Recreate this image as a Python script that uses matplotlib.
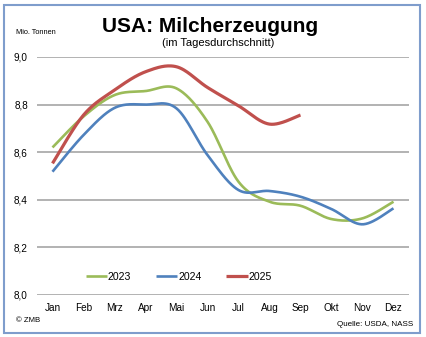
import numpy as np
import matplotlib
matplotlib.use("Agg")
import matplotlib.pyplot as plt
from matplotlib.patches import Rectangle

plt.rcParams['font.family'] = ['Liberation Sans', 'DejaVu Sans']

months = ["Jan", "Feb", "Mrz", "Apr", "Mai", "Jun", "Jul", "Aug", "Sep", "Okt", "Nov", "Dez"]
milk_2023 = [8.62, 8.75, 8.84, 8.857, 8.868, 8.728, 8.476, 8.392, 8.375, 8.319, 8.322, 8.392]
milk_2024 = [8.518, 8.672, 8.786, 8.80, 8.784, 8.588, 8.441, 8.437, 8.413, 8.361, 8.297, 8.364]
milk_2025 = [8.553, 8.756, 8.861, 8.938, 8.959, 8.872, 8.795, 8.718, 8.756]
yticks = [8.0, 8.2, 8.4, 8.6, 8.8, 9.0]


def smooth(y, n=30):
    # Catmull-Rom style bezier like spreadsheet "smoothed line"
    y = np.asarray(y, dtype=float)
    x = np.arange(len(y), dtype=float)
    pts = np.column_stack([x, y])
    ext = np.vstack([pts[0], pts, pts[-1]])
    out = []
    t = np.linspace(0, 1, n)[:, None]
    for i in range(len(pts) - 1):
        p0, p1, p2, p3 = ext[i], ext[i + 1], ext[i + 2], ext[i + 3]
        c1 = p1 + (p2 - p0) / 6
        c2 = p2 - (p3 - p1) / 6
        seg = ((1 - t) ** 3) * p1 + 3 * ((1 - t) ** 2) * t * c1 + 3 * (1 - t) * t ** 2 * c2 + t ** 3 * p2
        out.append(seg if i == 0 else seg[1:])
    out = np.vstack(out)
    return out[:, 0], out[:, 1]


fig = plt.figure(figsize=(4.27, 3.37), dpi=100)
ax = fig.add_axes([37 / 427, 1 - 295 / 337, 372 / 427, 238 / 337])

series = [(milk_2023, "2023", "#9BBB59", 1.9),
          (milk_2024, "2024", "#4F81BD", 1.9),
          (milk_2025, "2025", "#C0504D", 2.3)]
for vals, lab, col, lw in series:
    xs, ys = smooth(vals)
    ax.plot(xs, ys, color=col, lw=lw, label=lab, solid_capstyle='butt', zorder=3)

ax.set_xlim(-0.5, 11.5)
ax.set_ylim(8.0, 9.0)
ax.set_yticks(yticks)
ax.set_yticklabels([f"{v:.1f}".replace(".", ",") for v in yticks], fontsize=7.2)
ax.set_xticks(range(12))
ax.set_xticklabels(months, fontsize=7.2)
ax.tick_params(axis='x', length=0, pad=6)
ax.tick_params(axis='y', length=0, pad=6.5)
for s in ax.spines.values():
    s.set_visible(False)
ax.grid(axis='y', color='#A6A6A6', lw=1.2)
ax.set_axisbelow(True)

leg = ax.legend(loc='center left', bbox_to_anchor=(0.131, 0.075), ncol=3, frameon=False,
                fontsize=7.6, handlelength=2.0, handletextpad=0.1, columnspacing=2.35,
                borderpad=0, borderaxespad=0)

fig.text(0.492, 1 - 31.5 / 337, "USA: Milcherzeugung", ha='center', va='baseline',
         fontsize=15, fontweight='bold')
fig.text(0.512, 1 - 46.5 / 337, "(im Tagesdurchschnitt)", ha='center', va='baseline', fontsize=8)
fig.text(16 / 427, 1 - 33 / 337, "Mio. Tonnen", ha='left', va='center', fontsize=5.3)
fig.text(16 / 427, 1 - 321 / 337, "© ZMB", ha='left', va='center', fontsize=5.6)
fig.text(413 / 427, 1 - 324 / 337, "Quelle: USDA, NASS", ha='right', va='center', fontsize=5.8)

fig.patches.append(Rectangle((4 / 427, 4 / 337), 416 / 427, 328 / 337, transform=fig.transFigure,
                             fill=False, edgecolor='#7F9DCC', lw=1.5))

fig.savefig("out.png", dpi=100)
